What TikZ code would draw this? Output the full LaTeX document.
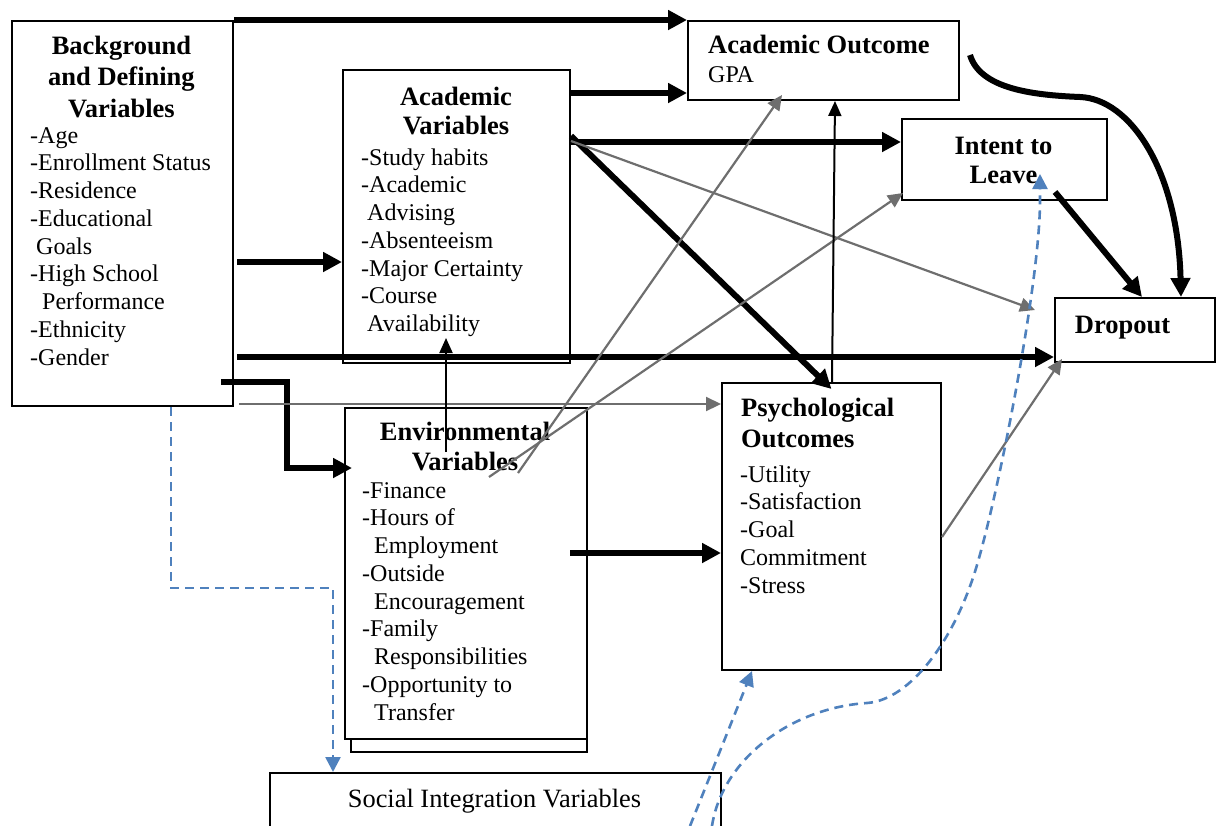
\documentclass[tikz,border=0pt]{standalone}
\usepackage{fontspec}
\setmainfont{Liberation Serif}
\usetikzlibrary{arrows.meta}
\definecolor{arrgray}{RGB}{110,110,110}
\definecolor{dblue}{RGB}{79,129,189}
\newcommand\mylist[2]{\parbox[t]{#1}{\raggedright\fontsize{24}{27.75}\selectfont #2}}
\newcommand\mytitle[3]{\parbox[t]{#1}{\centering\fontsize{26.5}{#2}\selectfont\bfseries #3}}
\begin{document}
\begin{tikzpicture}[x=1pt,y=-1pt,
  box/.style={draw, line width=2pt, fill=white, inner sep=0pt, anchor=north west},
  txt/.style={inner sep=0pt, anchor=base west},
  ctxt/.style={inner sep=0pt, anchor=base},
  thk/.style={line width=6pt, -{Triangle[length=19pt,width=19pt]}},
  gry/.style={color=arrgray, line width=2.2pt, -{Triangle[length=15pt,width=14pt]}},
  thn/.style={line width=2pt, -{Triangle[length=15pt,width=13pt]}},
  dsh/.style={color=dblue, line width=2.6pt, dash pattern=on 9pt off 6pt, -{Triangle[length=15pt,width=15pt]}}]
\useasboundingbox (0,0) rectangle (1218,825);
\clip (0,0) rectangle (1218,825);

% boxes
\node[box, minimum width=221pt, minimum height=385pt] (bg) at (11,20) {};
\node[box, minimum width=227pt, minimum height=293pt] (av) at (342,69) {};
\node[box, minimum width=236pt, minimum height=331pt] (evs) at (350,420) {};
\node[box, minimum width=242pt, minimum height=331pt] (ev) at (344,407) {};
\node[box, minimum width=271pt, minimum height=79pt] (ao) at (687,20) {};
\node[box, minimum width=205pt, minimum height=81pt] (it) at (901,118) {};
\node[box, minimum width=160pt, minimum height=64pt] (dr) at (1054,297) {};
\node[box, minimum width=219pt, minimum height=287pt] (ps) at (721,382) {};
\node[box, minimum width=451pt, minimum height=100pt] (si) at (269,772) {};

% texts
\node[ctxt] (bgT) at (121.5,54) {\mytitle{200pt}{31.5}{Background\\and Defining\\Variables}};
\node[txt] (bgL) at (30,143) {\mylist{200pt}{-Age\\-Enrollment Status\\-Residence\\-Educational\\\hspace*{6pt}Goals\\-High School\\\hspace*{12pt}Performance\\-Ethnicity\\-Gender}};

\node[ctxt] (avT) at (456,105) {\mytitle{220pt}{29.5}{Academic\\Variables}};
\node[txt] (avL) at (361,165) {\mylist{220pt}{-Study habits\\-Academic\\\hspace*{6pt}Advising\\-Absenteeism\\-Major Certainty\\-Course\\\hspace*{6pt}Availability}};

\node[ctxt] (evT) at (465,440) {\mytitle{240pt}{30}{Environmental\\Variables}};
\node[txt] (evL) at (362,498) {\mylist{220pt}{-Finance\\-Hours of\\\hspace*{12pt}Employment\\-Outside\\\hspace*{12pt}Encouragement\\-Family\\\hspace*{12pt}Responsibilities\\-Opportunity to\\\hspace*{12pt}Transfer}};

\node[txt] (psT) at (741,416) {\parbox[t]{200pt}{\raggedright\fontsize{26.5}{31}\selectfont\bfseries Psychological\\Outcomes}};
\node[txt] (psL) at (740,482) {\mylist{200pt}{-Utility\\-Satisfaction\\-Goal\\Commitment\\-Stress}};

\node[txt] (aoT) at (708,53.3) {\fontsize{26.5}{30}\selectfont\bfseries Academic Outcome};
\node[txt] (aoL) at (708,82.7) {\fontsize{24}{27.75}\selectfont GPA};

\node[ctxt] (itT) at (1003.5,154) {\mytitle{200pt}{29.5}{Intent to\\Leave}};
\node[ctxt] (drT) at (1122.5,333) {\fontsize{26.5}{30}\selectfont\bfseries Dropout};
\node[ctxt] (siT) at (494.5,807) {\fontsize{26.4}{30}\selectfont Social Integration Variables};

% free-end coordinates
\coordinate (g1) at (1035,310);
\coordinate (e1) at (221,382);
\coordinate (e2) at (352,468);
\coordinate (vs) at (446,452);
\coordinate (vt) at (446,338);
\coordinate (ga) at (518,473);
\coordinate (gb) at (489,477);
\coordinate (gat) at (782,95);
\coordinate (gbt) at (903,193);
\coordinate (ls) at (1055,192);
\coordinate (cs) at (970,55);
\coordinate (gp) at (1062,359);
\coordinate (es) at (570,553);
\coordinate (b1) at (690,826);
\coordinate (b2) at (712,826);
\coordinate (bt) at (752,671);

% thick black connectors
\draw[thk] (bg.north east) -- (ao.north west);
\draw[thk] (av.east |- 0,93) -- (ao.west |- 0,93);
\draw[thk] (av.east |- 0,142) -- (it.west |- 0,142);
\draw[thk] (av.east |- 0,136) -- ([yshift=-7pt]ps.north);
\draw[thk, shorten <=3pt] (bg.east |- 0,262) -- (av.west |- 0,262);
\draw[thk, shorten <=3pt] (bg.east |- 0,357) -- (dr.west |- 0,357);
\draw[thk] (e1) -| (287,468) -- (e2);
\draw[thk] (ls) -- (dr.north -| 1142,0);
\draw[thk] (cs) .. controls (980,88) and (1030,95) .. (1080,97)
  .. controls (1130,99) and (1178,170) .. (dr.north -| 1181,0);
\draw[thk] (es) -- (ps.west |- 0,553);

% gray connectors
\draw[gry] (av.east |- 0,141) -- (g1);
\draw[gry, shorten <=5pt] (bg.east |- 0,404) -- (ps.west |- 0,404);
\draw[gry] (ga) -- (gat);
\draw[gry] (gb) -- (gbt);
\draw[gry] (ps.east |- 0,537) -- (gp);

% thin black connectors
\draw[thn] (vs) -- (vt);
\draw[thn] (ps.north -| 832,0) -- (ao.south -| 835,0);

% blue dashed connectors
\draw[dsh] (bg.south -| 171,0) -- (171,588) -- (333,588) -- (si.north -| 333,0);
\draw[dsh] (b1) -- (bt);
\draw[dsh] (b2) .. controls (722,760) and (790,708) .. (867,703)
  .. controls (910,700) and (955,640) .. (977,565)
  .. controls (1000,487) and (1040,280) .. (it.south -| 1040,0) -- ++(0,-27);
\end{tikzpicture}
\end{document}
